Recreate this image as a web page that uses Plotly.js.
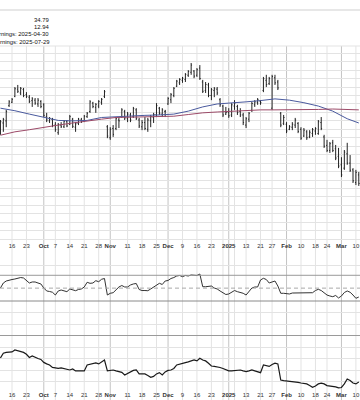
<!DOCTYPE html>
<html><head><meta charset="utf-8">
<script src="https://cdn.plot.ly/plotly-3.0.1.min.js"></script>
<style>html,body{margin:0;padding:0;background:#fff}#chart{width:360px;height:400px}</style>
</head><body><div id="chart"></div>
<script>
const dates = ["2024-09-10","2024-09-11","2024-09-12","2024-09-13","2024-09-16","2024-09-17","2024-09-18","2024-09-19","2024-09-20","2024-09-23","2024-09-24","2024-09-25","2024-09-26","2024-09-27","2024-09-30",
"2024-10-01","2024-10-02","2024-10-03","2024-10-04","2024-10-07","2024-10-08","2024-10-09","2024-10-10","2024-10-11","2024-10-14","2024-10-15","2024-10-16","2024-10-17","2024-10-18","2024-10-21","2024-10-22","2024-10-23","2024-10-24","2024-10-25","2024-10-28","2024-10-29","2024-10-30","2024-10-31",
"2024-11-01","2024-11-04","2024-11-05","2024-11-06","2024-11-07","2024-11-08","2024-11-11","2024-11-12","2024-11-13","2024-11-14","2024-11-15","2024-11-18","2024-11-19","2024-11-20","2024-11-21","2024-11-22","2024-11-25","2024-11-26","2024-11-27","2024-11-29",
"2024-12-02","2024-12-03","2024-12-04","2024-12-05","2024-12-06","2024-12-09","2024-12-10","2024-12-11","2024-12-12","2024-12-13","2024-12-16","2024-12-17","2024-12-18","2024-12-19","2024-12-20","2024-12-23","2024-12-24","2024-12-26","2024-12-27","2024-12-30","2024-12-31",
"2025-01-02","2025-01-03","2025-01-06","2025-01-07","2025-01-08","2025-01-10","2025-01-13","2025-01-14","2025-01-15","2025-01-16","2025-01-17","2025-01-21","2025-01-22","2025-01-23","2025-01-24","2025-01-27","2025-01-28","2025-01-29","2025-01-30","2025-01-31",
"2025-02-03","2025-02-04","2025-02-05","2025-02-06","2025-02-07","2025-02-10","2025-02-11","2025-02-12","2025-02-13","2025-02-14","2025-02-18","2025-02-19","2025-02-20","2025-02-21","2025-02-24","2025-02-25","2025-02-26","2025-02-27","2025-02-28",
"2025-03-03","2025-03-04","2025-03-05","2025-03-06","2025-03-07","2025-03-10","2025-03-11"];

const high = [126.2,126.7,128.6,130.9,131.4,134.0,134.5,134.0,133.8,132.8,132.1,131.6,131.4,131.4,130.9,
130.2,127.9,126.9,126.7,125.7,125.5,125.7,126.2,126.2,127.4,126.7,125.7,126.7,126.7,127.4,128.1,130.9,130.5,130.2,130.9,131.4,133.3,125.0,
124.5,125.0,126.9,126.9,129.0,128.6,128.1,127.9,129.3,129.0,126.7,126.2,126.9,126.7,127.4,127.9,130.2,129.3,129.0,128.6,
131.6,132.6,134.0,135.7,136.1,136.4,137.3,138.0,139.7,138.0,138.5,139.2,135.7,135.2,135.0,133.8,134.0,134.0,131.4,129.8,129.3,
129.0,130.2,130.9,129.8,129.0,127.9,126.9,128.1,130.5,130.9,131.4,130.9,136.4,136.9,136.4,136.9,136.9,135.7,128.1,127.4,
125.7,125.0,125.7,126.7,125.7,124.5,124.3,123.8,123.8,124.3,124.5,126.2,126.9,122.7,121.5,121.0,121.5,120.3,119.6,
117.4,119.1,120.8,117.9,114.8,114.4,113.9];
const low = [122.7,123.4,124.5,129.3,130.2,131.6,132.6,132.1,131.6,131.4,130.2,129.3,129.8,129.3,129.0,
126.9,125.7,125.5,124.5,123.4,122.7,124.3,124.3,124.5,125.0,124.3,123.4,125.0,125.5,125.7,126.7,127.9,129.0,127.9,129.0,129.8,131.4,121.9,
121.5,122.2,123.8,124.3,126.7,126.2,125.7,125.7,126.7,126.2,124.3,123.8,123.8,123.4,124.5,125.5,126.9,127.4,126.9,126.9,
129.8,130.2,131.6,134.0,134.5,135.0,135.2,136.4,136.9,136.1,136.4,135.7,132.6,132.6,131.6,130.9,131.6,132.1,129.3,126.9,127.4,
126.7,126.9,128.6,127.4,126.9,125.0,124.3,125.7,128.1,129.3,129.8,129.8,132.8,134.0,134.5,128.6,134.5,133.3,124.5,125.0,
123.1,123.8,123.8,124.3,123.1,121.5,122.2,121.5,121.9,122.2,122.7,122.7,123.8,119.6,118.6,118.4,118.6,116.7,114.8,
112.7,114.4,115.6,113.9,111.3,110.8,110.6];
const open = [123.0,125.5,126.0,129.6,130.4,131.8,133.5,132.6,133.4,132.2,131.6,130.8,130.9,130.0,130.6,
129.8,127.0,126.0,126.3,125.0,123.2,125.0,124.6,125.8,125.2,126.4,124.5,125.4,126.2,126.0,127.0,128.2,130.2,129.2,129.5,130.4,131.8,124.6,
122.0,124.2,124.2,126.2,127.0,128.2,126.5,127.4,127.0,128.6,126.2,124.6,125.6,124.0,126.0,126.8,127.5,129.0,127.6,128.2,
130.0,131.0,132.0,134.2,135.0,135.6,135.8,136.8,137.5,137.8,136.8,138.5,135.2,133.2,134.5,132.0,133.2,133.5,131.0,129.5,127.6,
128.0,127.4,129.5,129.4,128.2,127.4,125.0,126.4,128.5,129.8,130.4,130.6,133.2,135.6,134.8,129.0,136.2,135.2,127.8,125.4,
125.2,124.0,124.5,125.0,125.4,124.0,122.4,123.4,122.2,123.0,123.6,123.0,125.6,122.2,120.2,119.0,120.8,119.4,117.6,
115.6,114.8,118.2,116.0,114.4,111.4,113.2];
const close = [125.8,126.3,128.2,130.5,131.1,133.6,133.0,133.7,132.0,131.8,130.6,131.2,130.2,130.9,129.4,
127.3,126.2,126.6,124.9,123.9,125.1,124.6,125.9,124.8,127.0,124.7,125.3,126.4,125.8,127.1,127.8,130.5,129.4,129.9,130.6,131.1,132.9,122.4,
124.0,122.8,126.5,126.0,128.6,126.7,127.6,126.2,128.9,126.6,124.8,125.6,124.2,126.2,127.0,127.5,129.6,127.8,128.6,128.3,
131.3,132.2,133.7,135.4,135.8,136.1,137.0,137.7,139.2,136.6,138.1,136.0,133.0,134.6,132.0,133.4,133.6,132.6,129.8,127.4,128.0,
127.2,129.8,130.2,128.0,127.4,125.6,126.5,127.8,130.1,130.5,131.0,130.3,136.0,134.6,136.0,136.5,135.0,133.8,125.0,126.8,
123.6,124.6,125.2,126.2,123.5,121.9,123.8,122.0,123.3,123.9,124.2,125.8,124.2,120.0,119.0,120.6,119.0,117.2,115.3,
113.2,118.6,116.0,114.3,111.8,113.8,111.2];

const maDates = ["2024-09-10","2024-09-17","2024-09-24","2024-10-01","2024-10-08","2024-10-15","2024-10-22","2024-10-29","2024-11-05","2024-11-12","2024-11-19","2024-11-26","2024-12-04","2024-12-11","2024-12-18","2024-12-26","2025-01-03","2025-01-13","2025-01-21","2025-01-28","2025-02-04","2025-02-11","2025-02-19","2025-02-26","2025-03-05","2025-03-11"];
const ma50 = [129.0,128.4,127.6,126.8,126.1,126.0,126.1,126.8,127.0,127.1,127.3,127.4,127.6,128.3,129.3,130.0,130.2,130.5,130.8,131.2,130.9,130.3,129.5,128.3,126.5,125.5];
const ma200 = [122.6,123.4,123.9,124.5,125.0,125.5,126.0,126.4,126.8,126.9,127.0,127.0,127.1,127.5,127.9,128.1,128.3,128.4,128.6,128.6,128.6,128.6,128.7,128.8,128.7,128.6];

const rsi = [50.2,58.0,61.1,62.7,63.4,64.2,65.8,66.5,65.8,61.1,58.0,59.6,59.6,58.0,56.5,
50.2,45.6,44.8,43.6,39.3,45.6,47.1,46.3,44.5,48.7,47.1,46.0,47.9,48.7,51.8,59.1,57.5,58.0,61.6,60.0,63.8,65.0,39.3,
42.0,42.9,47.1,51.8,54.1,51.8,51.8,54.9,56.5,57.2,47.9,46.3,46.3,46.0,48.7,51.8,55.7,57.5,55.7,61.1,
61.9,65.0,66.5,68.9,69.7,67.8,69.7,68.9,70.5,69.7,69.7,72.0,52.2,52.2,52.2,53.3,50.2,48.7,45.6,43.2,40.1,
40.9,44.0,46.3,44.5,43.6,42.0,39.3,45.6,50.2,51.8,51.8,62.7,65.3,63.4,58.0,59.6,61.1,53.3,42.0,42.0,
41.4,40.9,42.4,42.4,42.0,42.4,42.9,42.0,42.4,42.9,46.3,48.2,46.3,42.4,39.3,37.8,36.7,38.6,34.7,
37.8,43.2,45.6,43.6,39.3,34.2,36.2];

const rel = [-19.1,-15.0,-14.3,-13.9,-13.9,-12.2,-13.0,-13.5,-14.3,-15.9,-18.7,-17.4,-18.7,-19.6,-20.4,
-23.0,-24.3,-25.2,-27.4,-27.8,-28.1,-27.8,-28.3,-28.7,-29.6,-28.7,-30.4,-30.4,-30.4,-30.4,-25.2,-24.8,-24.3,-23.5,-24.3,-22.2,-20.9,-30.4,
-30.0,-29.6,-30.4,-30.9,-31.7,-33.9,-32.6,-30.9,-30.0,-29.6,-33.0,-33.0,-33.0,-34.3,-35.9,-35.2,-33.0,-31.9,-33.9,-31.3,
-30.0,-29.6,-28.3,-25.2,-24.3,-23.5,-23.2,-22.6,-21.7,-20.9,-21.7,-19.4,-20.9,-21.7,-23.7,-26.1,-26.5,-26.7,-27.4,-28.3,-29.6,
-30.3,-30.4,-30.0,-29.6,-29.6,-30.4,-31.0,-30.4,-29.6,-30.4,-31.0,-31.9,-25.2,-25.8,-26.5,-24.8,-23.7,-24.3,-38.3,-38.9,
-39.1,-39.1,-39.6,-40.0,-40.3,-40.9,-41.1,-41.7,-43.0,-44.6,-43.5,-41.7,-41.1,-41.7,-43.2,-43.5,-43.9,-44.3,-45.2,
-44.8,-41.7,-37.4,-38.7,-40.9,-41.7,-40.0];

const tickDates = ["2024-09-16","2024-09-23","2024-10-01","2024-10-07","2024-10-14","2024-10-21","2024-10-28","2024-11-01","2024-11-11","2024-11-18","2024-11-25","2024-12-02","2024-12-09","2024-12-16","2024-12-23","2025-01-02","2025-01-13","2025-01-21","2025-01-27","2025-02-03","2025-02-10","2025-02-18","2025-02-24","2025-03-03","2025-03-10"];
const tickLabels = ["16","23","<b>Oct</b>","7","14","21","28","<b>Nov</b>","11","18","25","<b>Dec</b>","9","16","23","<b>2025</b>","13","21","27","<b>Feb</b>","10","18","24","<b>Mar</b>","10"];
const extraGridDates = ["2024-12-30","2025-01-06"];
const monthStarts = ["2024-10-01","2024-11-01","2024-12-02","2025-01-02","2025-02-03","2025-03-03"];
const headerLines = ["34.79","12.94","rnings: 2025-04-30","rnings: 2025-07-29"];

const H = 400, W = 360;
const py = px => 1 - px / H;
const font = {family: "Liberation Sans, Arial, sans-serif", size: 6, color: "#333"};

const shapes = [];
tickDates.concat(extraGridDates).forEach(d => {
  const i = dates.indexOf(d);
  const isMonth = monthStarts.indexOf(d) >= 0;
  shapes.push({type: "line", xref: "x", yref: "paper", x0: i, x1: i, y0: 0, y1: py(46), layer: "below",
    line: {color: isMonth ? "#c4c4c4" : "#e3e3e3", width: 1}});
});
shapes.push({type: "line", xref: "paper", yref: "paper", x0: 0, x1: 1, y0: py(10), y1: py(10), layer: "below", line: {color: "#cfcfcf", width: 1}});
shapes.push({type: "line", xref: "paper", yref: "paper", x0: 0, x1: 1, y0: py(46), y1: py(46), layer: "below", line: {color: "#e3e3e3", width: 1}});
shapes.push({type: "line", xref: "paper", yref: "y2", x0: 0, x1: 1, y0: 70, y1: 70, line: {color: "#999", width: 1}});
shapes.push({type: "line", xref: "paper", yref: "y2", x0: 0, x1: 1, y0: 50, y1: 50, line: {color: "#aaa", width: 1, dash: "4px,3px"}});
shapes.push({type: "line", xref: "paper", yref: "paper", x0: 0, x1: 1, y0: py(301), y1: py(301), line: {color: "#8a8a8a", width: 1}});

const annotations = headerLines.map((t, j) => ({
  xref: "paper", yref: "paper", x: 50.8 / W, y: py([20, 27, 34.5, 42][j]), xanchor: "right", yanchor: "middle",
  text: t, showarrow: false, font: {family: "Liberation Sans, Arial, sans-serif", size: 5.9, color: "#111"}
}));

const xr = [-0.152, 124.42];
const traces = [
  {type: "ohlc", x: dates, open: open, high: high, low: low, close: close, xaxis: "x", yaxis: "y",
   increasing: {line: {color: "#222", width: 1}}, decreasing: {line: {color: "#222", width: 1}}, tickwidth: 0.3, hoverinfo: "skip"},
  {type: "scatter", mode: "lines", x: maDates, y: ma50, xaxis: "x", yaxis: "y", line: {color: "#4a5a9e", width: 1}, hoverinfo: "skip"},
  {type: "scatter", mode: "lines", x: maDates, y: ma200, xaxis: "x", yaxis: "y", line: {color: "#9c4a68", width: 1}, hoverinfo: "skip"},
  {type: "scatter", mode: "lines", x: dates, y: rsi, xaxis: "x2", yaxis: "y2", line: {color: "#333", width: 1}, hoverinfo: "skip"},
  {type: "scatter", mode: "lines", x: dates, y: rel, xaxis: "x3", yaxis: "y3", line: {color: "#1a1a1a", width: 1.2}, hoverinfo: "skip"}
];

const xbase = {type: "category", range: xr, showgrid: false, zeroline: false, ticks: "", showline: false,
  tickmode: "array", tickvals: tickDates, ticktext: tickLabels, tickfont: font, tickangle: 0};
const layout = {
  width: W, height: H, margin: {l: 0, r: 0, t: 0, b: 0},
  paper_bgcolor: "#fff", plot_bgcolor: "rgba(0,0,0,0)", showlegend: false,
  xaxis: Object.assign({}, xbase, {anchor: "y", rangeslider: {visible: false}}),
  xaxis2: Object.assign({}, xbase, {anchor: "y2", matches: "x", showticklabels: false}),
  xaxis3: Object.assign({}, xbase, {anchor: "y3", matches: "x"}),
  yaxis: {domain: [py(241), py(46)], range: [97.56, 143.72], dtick: 2, tick0: 0, showgrid: true, gridcolor: "#e3e3e3",
    zeroline: false, showticklabels: false, ticks: ""},
  yaxis2: {domain: [py(301), py(256)], range: [30, 100], tickmode: "array", tickvals: [85, 100], showgrid: true, gridcolor: "#e3e3e3",
    zeroline: false, showticklabels: false, ticks: ""},
  yaxis3: {domain: [py(390), py(301)], range: [-47, 30.4], dtick: 10, tick0: 0, showgrid: true, gridcolor: "#e3e3e3",
    zeroline: true, zerolinecolor: "#9a9a9a", zerolinewidth: 1, showticklabels: false, ticks: ""},
  shapes: shapes, annotations: annotations
};
Plotly.newPlot("chart", traces, layout, {staticPlot: true, displayModeBar: false});
</script></body></html>
